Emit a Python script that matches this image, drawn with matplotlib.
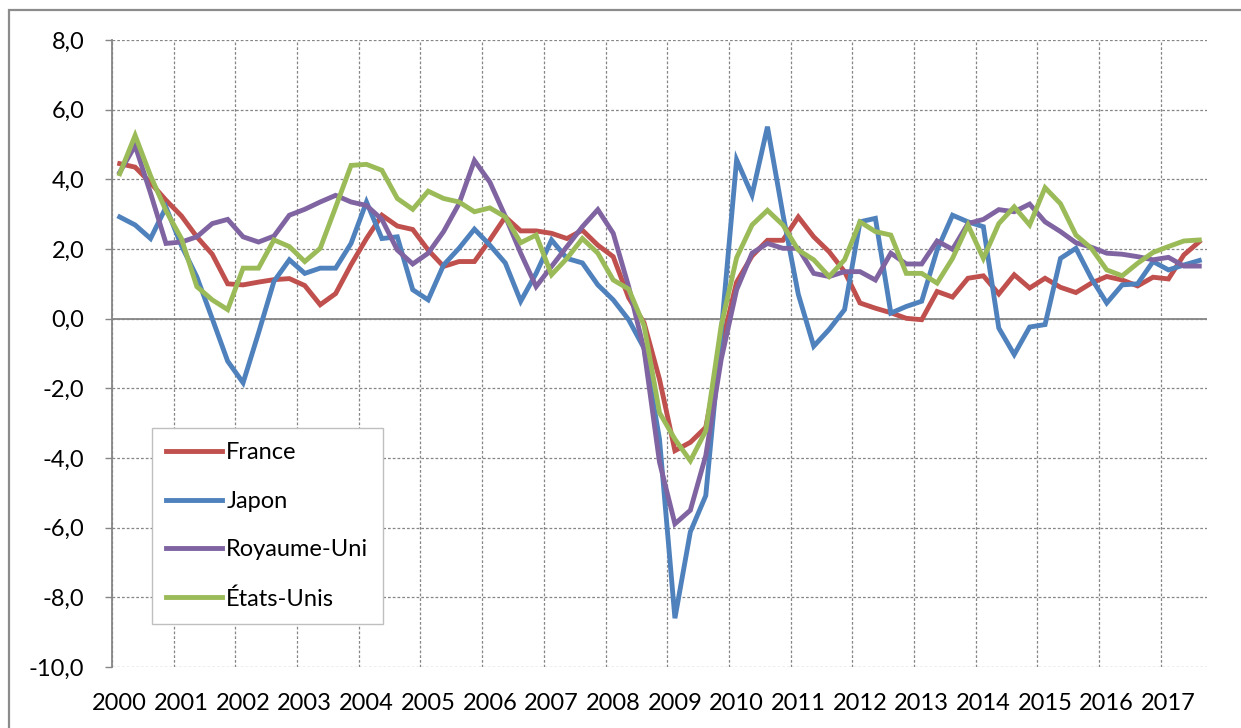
import numpy as np
import matplotlib
matplotlib.use("Agg")
import matplotlib.pyplot as plt
from matplotlib.patches import Rectangle

# glissement annuel trimestriel, 2000T1 -> 2017T3
france = [4.45, 4.35, 3.9, 3.4, 2.95, 2.35, 1.85, 1.0, 0.97, 1.05, 1.12, 1.15, 0.95, 0.4, 0.72, 1.55,
          2.3, 2.97, 2.66, 2.56, 1.97, 1.5, 1.64, 1.64, 2.26, 2.92, 2.52, 2.52, 2.45, 2.3, 2.54, 2.11,
          1.78, 0.6, -0.12, -1.74, -3.79, -3.55, -3.12, -0.8, 1.05, 1.8, 2.25, 2.25, 2.92, 2.35, 1.92, 1.35,
          0.45, 0.3, 0.17, 0.01, -0.03, 0.78, 0.62, 1.16, 1.23, 0.71, 1.26, 0.88, 1.16, 0.9, 0.75, 1.02,
          1.21, 1.11, 0.94, 1.19, 1.14, 1.83, 2.21]
japon = [2.92, 2.69, 2.3, 3.2, 2.1, 1.2, 0.0, -1.22, -1.84, -0.41, 1.07, 1.69, 1.3, 1.45, 1.45, 2.16,
         3.35, 2.3, 2.35, 0.83, 0.54, 1.54, 2.02, 2.57, 2.11, 1.6, 0.5, 1.3, 2.26, 1.73, 1.6, 0.97,
         0.54, -0.03, -0.85, -3.46, -8.6, -6.12, -5.08, -0.4, 4.56, 3.55, 5.51, 3.0, 0.7, -0.79, -0.31, 0.26,
         2.78, 2.88, 0.16, 0.35, 0.5, 1.97, 2.97, 2.78, 2.64, -0.27, -1.03, -0.24, -0.17, 1.73, 2.02, 1.16,
         0.45, 0.97, 1.0, 1.64, 1.4, 1.54, 1.67]
royaume_uni = [4.2, 4.97, 3.6, 2.16, 2.2, 2.35, 2.73, 2.85, 2.35, 2.2, 2.37, 2.97, 3.14, 3.35, 3.54, 3.35,
               3.25, 2.85, 1.97, 1.57, 1.88, 2.5, 3.3, 4.54, 3.92, 2.94, 1.88, 0.92, 1.5, 2.07, 2.64, 3.13,
               2.45, 0.92, -0.89, -4.12, -5.89, -5.5, -3.93, -1.17, 0.83, 1.88, 2.16, 2.02, 2.02, 1.3, 1.21, 1.35,
               1.35, 1.11, 1.88, 1.57, 1.57, 2.23, 1.99, 2.73, 2.85, 3.13, 3.07, 3.29, 2.78, 2.5, 2.18, 2.05,
               1.88, 1.85, 1.78, 1.69, 1.76, 1.51, 1.51]
etats_unis = [4.16, 5.26, 4.1, 3.1, 2.3, 0.92, 0.54, 0.26, 1.45, 1.45, 2.26, 2.07, 1.64, 2.02, 3.2, 4.4,
              4.43, 4.26, 3.45, 3.14, 3.66, 3.45, 3.35, 3.07, 3.18, 2.92, 2.18, 2.4, 1.26, 1.73, 2.3, 1.88,
              1.11, 0.85, -0.2, -2.7, -3.46, -4.08, -3.22, -0.2, 1.75, 2.69, 3.11, 2.69, 1.97, 1.69, 1.21, 1.69,
              2.78, 2.5, 2.4, 1.3, 1.3, 1.02, 1.73, 2.69, 1.73, 2.73, 3.21, 2.69, 3.76, 3.3, 2.4, 2.02,
              1.4, 1.23, 1.59, 1.9, 2.07, 2.23, 2.26]

annees = [str(a) for a in range(2000, 2018)]
y_ticks = [-10, -8, -6, -4, -2, 0, 2, 4, 6, 8]
y_labels = ["-10,0", "-8,0", "-6,0", "-4,0", "-2,0", "0,0", "2,0", "4,0", "6,0", "8,0"]

series = [("France", france, "#C0504D"),
          ("Japon", japon, "#4F81BD"),
          ("Royaume-Uni", royaume_uni, "#8064A2"),
          ("États-Unis", etats_unis, "#9BBB59")]

plt.rcParams["font.family"] = ["Lato", "DejaVu Sans"]
gris = "#868686"

fig = plt.figure(figsize=(12.41, 7.28), dpi=100)
ax = fig.add_axes([112 / 1241, 1 - 667 / 728, (1207 - 112) / 1241, (667 - 40) / 728])

n = len(france)
x = np.arange(n)
for nom, vals, col in series:
    ax.plot(x, vals, color=col, lw=3.5, label=nom, solid_joinstyle="miter")

ax.set_xlim(-0.5, n - 0.5)
ax.set_ylim(-10, 8)

# axe des categories : un label tous les 4 trimestres, grille entre categories
ax.set_xticks(np.arange(0, n, 4))
ax.set_xticklabels(annees)
ax.set_xticks(np.arange(-0.5, n, 4), minor=True)
ax.tick_params(axis="x", which="both", length=0, pad=19, labelsize=17)
ax.grid(True, axis="x", which="minor", color=gris, lw=0.9, linestyle=(0, (2.2, 1.6)))

ax.set_yticks(y_ticks)
ax.set_yticklabels(y_labels)
ax.tick_params(axis="y", length=5, width=1, color=gris, pad=15, labelsize=17)
ax.grid(True, axis="y", color=gris, lw=0.9, linestyle=(0, (2.2, 1.6)))
ax.set_axisbelow(True)
ax.axhline(0, color=gris, lw=1.3, zorder=1.5)

for s in ["top", "right", "bottom"]:
    ax.spines[s].set_visible(False)
ax.spines["left"].set_color(gris)
ax.spines["left"].set_linewidth(1.3)

leg = ax.legend(loc="upper left", bbox_to_anchor=(152 / 1241, 1 - 428 / 728),
                bbox_transform=fig.transFigure, borderaxespad=0, fontsize=17,
                handlelength=2.35, handletextpad=0.2, labelspacing=1.17, borderpad=0.6,
                fancybox=False, framealpha=1, edgecolor="#BFBFBF")
leg.get_frame().set_linewidth(1.0)

# cadre du graphique
fig.patches.append(Rectangle((9 / 1241, -0.05), 1.2, 1 - 10 / 728 + 0.05, transform=fig.transFigure,
                             fill=False, edgecolor="#8C8C8C", lw=1.6))

fig.savefig("out.png", dpi=100)
